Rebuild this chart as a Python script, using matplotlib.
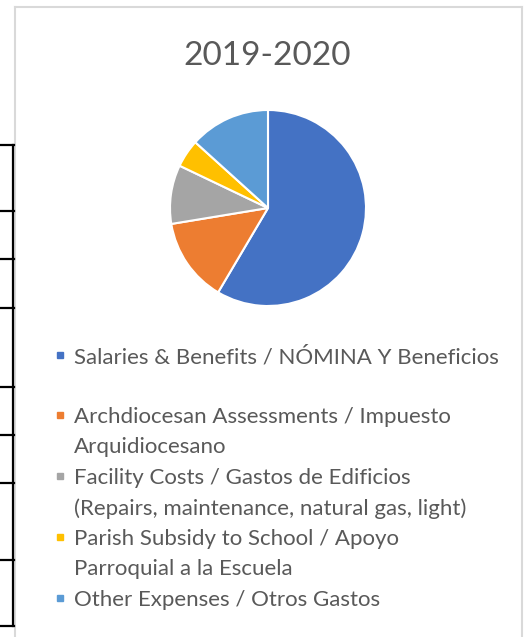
import matplotlib
matplotlib.use("Agg")
import matplotlib.pyplot as plt
from matplotlib.lines import Line2D
from matplotlib.patches import Rectangle

# ---- data ----
title = "2019-2020"
categories = [
    "Salaries & Benefits / NÓMINA Y Beneficios",
    "Archdiocesan Assessments / Impuesto\nArquidiocesano",
    "Facility Costs / Gastos de Edificios\n(Repairs, maintenance, natural gas, light)",
    "Parish Subsidy to School / Apoyo\nParroquial a la Escuela",
    "Other Expenses / Otros Gastos",
]
values = [58.5, 13.9, 9.7, 4.6, 13.3]
colors = ["#4472C4", "#ED7D31", "#A5A5A5", "#FFC000", "#5B9BD5"]

W, H = 527, 637
fig = plt.figure(figsize=(W / 100, H / 100), dpi=100)
fig.patch.set_facecolor("white")

def fx(x):
    return x / W

def fy(y):
    return 1 - y / H

# chart border (light gray)
border = "#d9d9d9"
fig.add_artist(Line2D([fx(15), fx(15)], [fy(7), fy(640)], color=border, lw=1.5, transform=fig.transFigure))
fig.add_artist(Line2D([fx(15), fx(522)], [fy(7), fy(7)], color=border, lw=1.5, transform=fig.transFigure))
fig.add_artist(Line2D([fx(522), fx(522)], [fy(7), fy(640)], color=border, lw=1.5, transform=fig.transFigure))

# table edge lines on the left (black)
fig.add_artist(Line2D([fx(13), fx(13)], [fy(145), fy(626)], color="black", lw=1.6, transform=fig.transFigure))
for yy in [145, 211, 259, 308, 387, 435, 483, 560, 626]:
    fig.add_artist(Line2D([fx(0), fx(13.7)], [fy(yy), fy(yy)], color="black", lw=1.6, transform=fig.transFigure))

# pie
cx, cy, r = 268, 208, 98
ax = fig.add_axes([fx(cx - r), fy(cy + r), 2 * r / W, 2 * r / H])
ax.pie(values, colors=colors, startangle=90, counterclock=False,
       wedgeprops=dict(edgecolor="white", linewidth=1.5))
ax.set_aspect("equal")
ax.set_xlim(-1, 1)
ax.set_ylim(-1, 1)
ax.axis("off")

txtcol = "#595959"
fig.text(fx(267), fy(65), title, ha="center", va="baseline", fontsize=24,
         color=txtcol, family="Lato")

# legend (manual)
line_baselines = [363, 423, 453, 484, 515, 545, 575, 606]
starts = [0, 1, 3, 5, 7]
for i, (lab, col) in enumerate(zip(categories, colors)):
    lines = lab.split("\n")
    b0 = line_baselines[starts[i]]
    fig.add_artist(Rectangle((fx(57), fy(b0 - 5)), 6 / W, 6 / H, color=col,
                             transform=fig.transFigure))
    for k, ln in enumerate(lines):
        fig.text(fx(74), fy(line_baselines[starts[i] + k]), ln, ha="left",
                 va="baseline", fontsize=16, color=txtcol, family="Lato")

fig.savefig("out.png", dpi=100, facecolor="white")
